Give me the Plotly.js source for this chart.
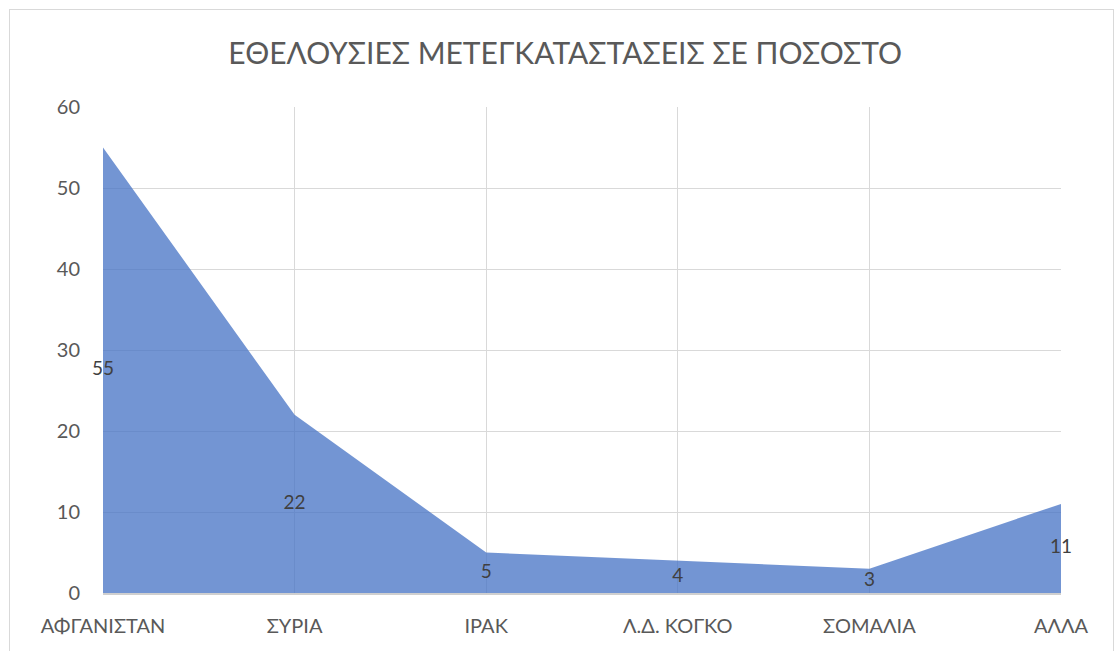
<!DOCTYPE html>
<html>
<head>
<meta charset="utf-8">
<script src="https://cdn.plot.ly/plotly-3.0.1.min.js"></script>
<style>
html,body{margin:0;padding:0;background:#fff;}
#frame{position:absolute;left:9px;top:9px;width:1105px;height:660px;border:1px solid #d9d9d9;box-sizing:border-box;pointer-events:none;z-index:5;}
#chart{position:absolute;left:0;top:0;width:1117px;height:651px;}
</style>
</head>
<body>
<div id="chart"></div>
<div id="frame"></div>
<script>
const categories = ["ΑΦΓΑΝΙΣΤΑΝ", "ΣΥΡΙΑ", "ΙΡΑΚ", "Λ.Δ. ΚΟΓΚΟ", "ΣΟΜΑΛΙΑ", "ΑΛΛΑ"];
const values = [55, 22, 5, 4, 3, 11];
const yTicks = [0, 10, 20, 30, 40, 50, 60];
const titleText = "ΕΘΕΛΟΥΣΙΕΣ ΜΕΤΕΓΚΑΤΑΣΤΑΣΕΙΣ ΣΕ ΠΟΣΟΣΤΟ";

const fontFam = "Lato, 'Open Sans', sans-serif";

const area = {
  x: categories,
  y: values,
  type: "scatter",
  mode: "lines",
  fill: "tozeroy",
  fillcolor: "rgba(68,114,196,0.75)",
  line: {width: 0, color: "rgba(68,114,196,0)"},
  hoverinfo: "x+y"
};

const labels = {
  x: categories,
  y: values.map(v => v / 2),
  type: "scatter",
  mode: "text",
  text: values.map(String),
  textposition: "middle center",
  textfont: {family: fontFam, size: 19, color: "#404040"},
  cliponaxis: false,
  hoverinfo: "skip"
};

const layout = {
  width: 1117,
  height: 651,
  margin: {l: 103, r: 56, t: 107, b: 58},
  paper_bgcolor: "#ffffff",
  plot_bgcolor: "#ffffff",
  showlegend: false,
  title: {
    text: titleText,
    font: {family: fontFam, size: 30, color: "#595959"},
    x: 0.506, xanchor: "center",
    y: 0.918, yanchor: "middle"
  },
  xaxis: {
    type: "category",
    range: [0, categories.length - 1],
    showgrid: true,
    gridcolor: "#d9d9d9",
    gridwidth: 1,
    showline: true,
    linecolor: "#cfcfcf",
    linewidth: 1.5,
    zeroline: false,
    ticks: "",
    ticklabelstandoff: 14,
    tickfont: {family: fontFam, size: 20, color: "#595959"},
    fixedrange: true
  },
  yaxis: {
    range: [0, 60],
    tickvals: yTicks,
    ticktext: yTicks.map(String),
    showgrid: true,
    gridcolor: "#d9d9d9",
    gridwidth: 1,
    zeroline: false,
    showline: false,
    ticks: "",
    ticklabelstandoff: 22,
    tickfont: {family: fontFam, size: 20, color: "#595959"},
    fixedrange: true
  }
};

Plotly.newPlot("chart", [area, labels], layout, {displayModeBar: false, staticPlot: true});
</script>
</body>
</html>
